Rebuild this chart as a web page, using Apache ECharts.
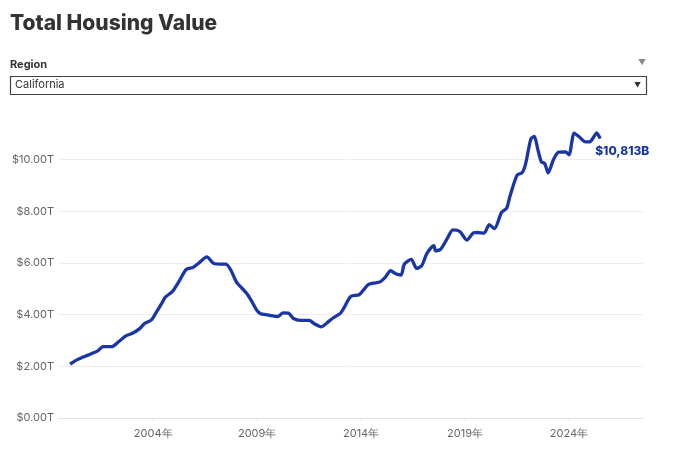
<!DOCTYPE html>
<html>
<head>
<meta charset="utf-8">
<script src="https://cdn.jsdelivr.net/npm/echarts@6/dist/echarts.min.js"></script>
<style>
html,body{margin:0;padding:0;background:#fff;}
#chart{width:681px;height:476px;}
</style>
</head>
<body>
<div id="chart"></div>
<script>
// Monthly observation dates and total housing value (trillions USD)
const dates = ['2000-01','2000-05','2000-09','2001-01','2001-05','2001-08','2002-01','2002-05','2002-09','2003-01',
'2003-05','2003-08','2003-12','2004-03','2004-06','2004-08','2004-12','2005-04','2005-08','2005-12',
'2006-03','2006-08','2006-12','2007-04','2007-07','2007-10','2008-01','2008-07','2008-10','2009-01',
'2009-03','2009-06','2009-10','2010-01','2010-04','2010-07','2010-10','2011-02','2011-07','2011-10',
'2012-02','2012-06','2012-09','2013-01','2013-03','2013-07','2013-12','2014-05','2014-08','2014-12',
'2015-03','2015-06','2015-09','2015-12','2016-02','2016-06','2016-09','2016-12','2017-03','2017-07',
'2017-08','2017-11','2018-03','2018-06','2018-10','2019-02','2019-06','2019-08','2019-12','2020-03',
'2020-06','2020-10','2021-01','2021-03','2021-07','2021-10','2021-12','2022-03','2022-05','2022-07',
'2022-09','2022-11','2023-01','2023-04','2023-07','2023-11','2024-01','2024-04','2024-07','2024-10',
'2025-01','2025-03','2025-05','2025-07'];
const values = [2.09,2.25,2.37,2.48,2.60,2.76,2.76,2.95,3.17,3.28,
3.45,3.66,3.80,4.12,4.45,4.68,4.89,5.30,5.75,5.83,
5.98,6.24,5.98,5.96,5.96,5.70,5.27,4.82,4.50,4.15,
4.04,4.00,3.95,3.93,4.07,4.06,3.85,3.78,3.78,3.65,
3.53,3.72,3.88,4.05,4.25,4.70,4.78,5.16,5.22,5.27,
5.45,5.70,5.58,5.53,5.96,6.14,5.79,5.90,6.37,6.67,
6.47,6.54,6.98,7.28,7.22,6.89,7.17,7.18,7.16,7.48,
7.33,7.95,8.12,8.60,9.40,9.50,9.85,10.80,10.90,10.40,
9.92,9.85,9.49,10.00,10.29,10.30,10.19,11.03,10.88,10.70,
10.69,10.85,11.04,10.813];
const yearTicks = [2004, 2009, 2014, 2019, 2024];
const valueTicks = [0, 2, 4, 6, 8, 10];
const gridValues = [2, 4, 6, 8, 10];
const titleText = 'Total Housing Value';
const filterLabel = 'Region';
const filterValue = 'California';

function toYear(d){ const p = d.split('-'); return (+p[0]) + (+p[1]-1)/12; }
const seriesData = dates.map((d,i)=>[toYear(d), values[i]]);

const chart = echarts.init(document.getElementById('chart'));
const FONT = 'Inter, "Noto Sans", sans-serif';
chart.setOption({
  animation:false,
  backgroundColor:'#fff',
  textStyle:{fontFamily:FONT},
  graphic:[
    {type:'text', left:10, top:13, style:{text:titleText, font:'800 21px '+FONT, fill:'#333'}},
    {type:'text', left:10, top:59, style:{text:filterLabel, font:'bold 11px '+FONT, fill:'#333'}},
    {type:'text', left:638, top:59, style:{text:'▼', font:'8px '+FONT, fill:'#888'}},
    {type:'rect', shape:{x:10.5, y:76.5, width:636, height:18}, style:{fill:'#fff', stroke:'#444', lineWidth:1.2}},
    {type:'text', left:15, top:79, style:{text:filterValue, font:'11px '+FONT, fill:'#333'}},
    {type:'text', left:634, top:82, style:{text:'▼', font:'7px '+FONT, fill:'#333'}}
  ],
  grid:{left:58, right:38, top:108, bottom:58},
  xAxis:{
    type:'value', min:1999.42, max:2027.56,
    axisLine:{show:true, lineStyle:{color:'#ddd', type:'dotted'}},
    axisTick:{show:true, length:3, lineStyle:{color:'#ddd'}, customValues:yearTicks},
    axisLabel:{customValues:yearTicks, color:'#666', fontSize:11, margin:10,
      formatter:v=>Math.round(v)+'年'},
    splitLine:{show:false}
  },
  yAxis:{
    type:'value', min:0, max:12,
    axisLine:{show:false},
    axisTick:{show:false, customValues:gridValues},
    axisLabel:{customValues:valueTicks, color:'#666', fontSize:11, margin:4,
      formatter:v=>'$'+v.toFixed(2)+'T'},
    splitLine:{show:true, lineStyle:{color:'#eee', width:1}}
  },
  series:[{
    type:'line', data:seriesData, smooth:0.25, showSymbol:false,
    lineStyle:{color:'#1a36a6', width:3.3},
    endLabel:{show:true, offset:[-13,13], color:'#1a36a6', fontWeight:800, fontSize:12,
      formatter:p=>'$'+Math.round(p.value[1]*1000).toLocaleString('en-US')+'B'}
  }]
});
</script>
</body>
</html>
